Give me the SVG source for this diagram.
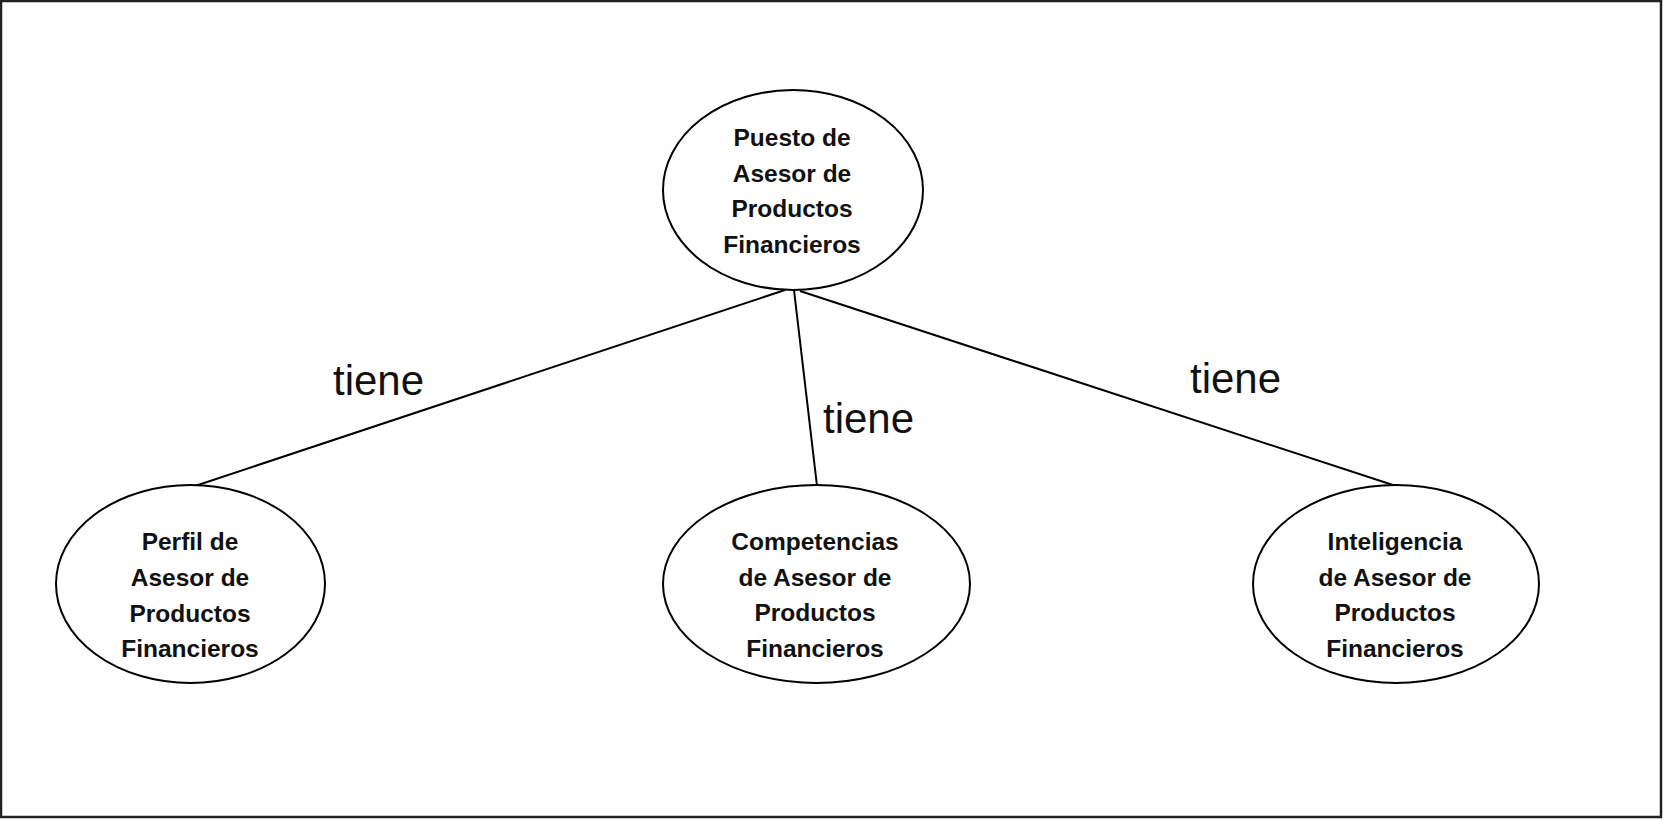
<svg xmlns="http://www.w3.org/2000/svg" width="1663" height="820" viewBox="0 0 1663 820">
<style>
.node ellipse{fill:#fff;stroke:#000;stroke-width:2}
.node text{font-family:"Liberation Sans",Arial,sans-serif;font-weight:bold;font-size:24.5px;fill:#111;text-anchor:middle}
.edge line{stroke:#000;stroke-width:2}
.lbl{font-family:"Liberation Sans",Arial,sans-serif;font-size:42px;fill:#111}
</style>
<rect x="0" y="0" width="1663" height="820" fill="#fff"/>
<rect x="1" y="1" width="1660" height="816" fill="none" stroke="#222" stroke-width="2.5"/>
<g id="connectors" class="edge">
<line x1="785" y1="290" x2="195" y2="486"/>
<line x1="794" y1="290" x2="817" y2="486"/>
<line x1="800" y1="291" x2="1396" y2="486"/>
<text class="lbl" x="333" y="395">tiene</text>
<text class="lbl" x="823" y="433">tiene</text>
<text class="lbl" x="1190" y="393">tiene</text>
</g>
<g id="n-puesto" class="node">
<ellipse cx="793" cy="190" rx="130" ry="100"/>
<text x="792" y="146">Puesto de</text>
<text x="792" y="181.5">Asesor de</text>
<text x="792" y="217">Productos</text>
<text x="792" y="252.5">Financieros</text>
</g>
<g id="n-perfil" class="node">
<ellipse cx="190.5" cy="584" rx="134.5" ry="99"/>
<text x="190" y="550">Perfil de</text>
<text x="190" y="586">Asesor de</text>
<text x="190" y="621.5">Productos</text>
<text x="190" y="657">Financieros</text>
</g>
<g id="n-competencias" class="node">
<ellipse cx="816.5" cy="584" rx="153.5" ry="99"/>
<text x="815" y="550">Competencias</text>
<text x="815" y="585.5">de Asesor de</text>
<text x="815" y="621">Productos</text>
<text x="815" y="657">Financieros</text>
</g>
<g id="n-inteligencia" class="node">
<ellipse cx="1396" cy="584" rx="143" ry="99"/>
<text x="1395" y="550">Inteligencia</text>
<text x="1395" y="585.5">de Asesor de</text>
<text x="1395" y="621">Productos</text>
<text x="1395" y="657">Financieros</text>
</g>
</svg>
